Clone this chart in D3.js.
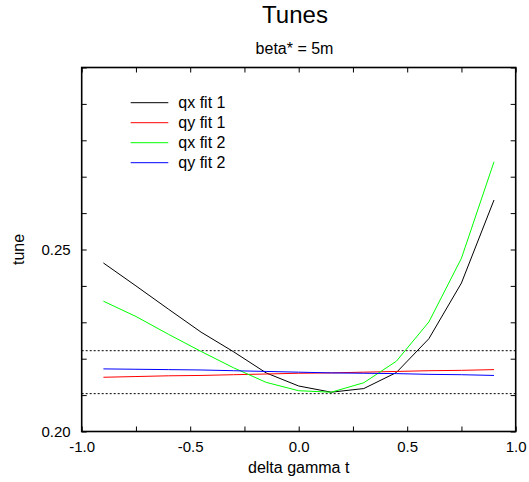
<!DOCTYPE html>
<html><head><meta charset="utf-8">
<script src="https://cdn.jsdelivr.net/npm/d3@7"></script>
<style>body{margin:0;background:#fff}svg{display:block;font-family:"Liberation Sans",Arial,sans-serif}</style>
</head><body>
<svg id="c" width="529" height="482"></svg>
<script>
const xs = [-0.9,-0.75,-0.6,-0.45,-0.3,-0.15,0,0.15,0.3,0.45,0.6,0.75,0.9];
const qxFit1 = [0.2463,0.2400,0.2336,0.2273,0.2219,0.2161,0.2125,0.2108,0.2118,0.2162,0.2255,0.2408,0.2636];
const qyFit1 = [0.2149,0.2151,0.2153,0.2154,0.2156,0.2158,0.2160,0.2161,0.2163,0.2165,0.2167,0.2168,0.2170];
const qxFit2 = [0.2358,0.2316,0.2267,0.2220,0.2175,0.2135,0.2112,0.2108,0.2134,0.2193,0.2301,0.2476,0.2741];
const qyFit2 = [0.2172,0.2171,0.2170,0.2169,0.2167,0.2165,0.2163,0.2161,0.2160,0.2159,0.2157,0.2156,0.2154];
const refLines = [0.2222,0.2104];
const seriesNames = ["qx fit 1","qy fit 1","qx fit 2","qy fit 2"];
const seriesColors = ["#000000","#ff0000","#00ff00","#0000ff"];
const seriesValues = [qxFit1,qyFit1,qxFit2,qyFit2];
const xTicks = [-1.0,-0.75,-0.5,-0.25,0,0.25,0.5,0.75,1.0];
const xTickLabels = ["-1.0","","-0.5","","0.0","","0.5","","1.0"];
const yTicks = [0.20,0.21,0.22,0.23,0.24,0.25,0.26,0.27,0.28,0.29,0.30];
const yTickLabels = ["0.20","","","","","0.25","","","","",""];

const L=81.7,R=515.7,T=67.5,B=431.5;
const svg=d3.select("#c");
const x=d3.scaleLinear().domain([-1,1]).range([L,R]);
const y=d3.scaleLinear().domain([0.20,0.30]).range([B,T]);

// reference dotted lines
svg.selectAll("line.ref").data(refLines).enter().append("line")
 .attr("x1",L).attr("x2",R).attr("y1",d=>y(d)).attr("y2",d=>y(d))
 .attr("stroke","#000").attr("stroke-width",1).attr("stroke-dasharray","2,2");

// axes with inward ticks
const fmtX=(d,i)=>xTickLabels[i];
const fmtY=(d,i)=>yTickLabels[i];
const gB=svg.append("g").attr("transform",`translate(0,${B})`)
 .call(d3.axisBottom(x).tickValues(xTicks).tickFormat(fmtX).tickSizeInner(-5).tickSizeOuter(0).tickPadding(10));
const gT=svg.append("g").attr("transform",`translate(0,${T})`)
 .call(d3.axisTop(x).tickValues(xTicks).tickFormat("").tickSizeInner(-5).tickSizeOuter(0));
const gL=svg.append("g").attr("transform",`translate(${L},0)`)
 .call(d3.axisLeft(y).tickValues(yTicks).tickFormat(fmtY).tickSizeInner(-5).tickSizeOuter(0).tickPadding(11));
const gR=svg.append("g").attr("transform",`translate(${R},0)`)
 .call(d3.axisRight(y).tickValues(yTicks).tickFormat("").tickSizeInner(-5).tickSizeOuter(0));
[gB,gT,gL,gR].forEach(g=>{
  g.select(".domain").remove();
  g.selectAll("line").attr("stroke","#000").attr("stroke-width",1);
  g.selectAll("text").attr("font-size",15).attr("fill","#000").attr("font-family","Liberation Sans, Arial, sans-serif");
});
svg.append("rect").attr("x",L).attr("y",T).attr("width",R-L).attr("height",B-T)
 .attr("fill","none").attr("stroke","#000").attr("stroke-width",1.6);

// series
const line=d3.line().x((d,i)=>x(xs[i])).y(d=>y(d));
seriesValues.forEach((vals,k)=>{
  svg.append("path").datum(vals).attr("d",line).attr("fill","none")
   .attr("stroke",seriesColors[k]).attr("stroke-width",1);
});

// legend
const lg=svg.append("g");
seriesNames.forEach((n,k)=>{
  const yy=102.7+k*20;
  lg.append("line").attr("x1",130.7).attr("x2",168.3).attr("y1",yy).attr("y2",yy)
    .attr("stroke",seriesColors[k]).attr("stroke-width",1);
  lg.append("text").attr("x",178.3).attr("y",yy).attr("dy","0.35em")
    .attr("font-size",16).text(n);
});

// titles
svg.append("text").attr("x",295).attr("y",22.7).attr("text-anchor","middle").attr("font-size",24).text("Tunes");
svg.append("text").attr("x",294.5).attr("y",54).attr("text-anchor","middle").attr("font-size",16).text("beta* = 5m");
svg.append("text").attr("x",298.7).attr("y",473).attr("text-anchor","middle").attr("font-size",16).text("delta gamma t");
svg.append("text").attr("transform","translate(24,249.5) rotate(-90)").attr("text-anchor","middle").attr("font-size",16).text("tune");
</script>
</body></html>
